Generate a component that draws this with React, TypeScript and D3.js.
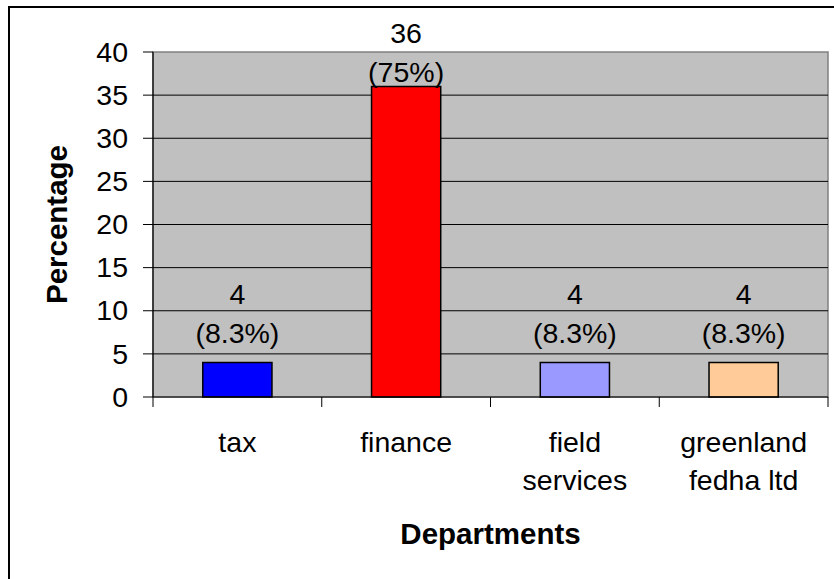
import React, { useEffect, useRef } from "react";
import * as d3 from "d3";

const categories: string[][] = [
  ["tax"],
  ["finance"],
  ["field", "services"],
  ["greenland", "fedha ltd"],
];
const counts = [4, 36, 4, 4];
const barColors = ["#0000FF", "#FF0000", "#9999FF", "#FFCC99"];
const yTicks = [0, 5, 10, 15, 20, 25, 30, 35, 40];

const W = 834;
const H = 579;
const FONT = "'Liberation Sans', Arial, sans-serif";

export default function App() {
  const ref = useRef<SVGSVGElement>(null);

  useEffect(() => {
    const svg = d3.select(ref.current);
    svg.selectAll("*").remove();

    const plot = { left: 153, right: 828, top: 52, bottom: 397 };
    const total = d3.sum(counts);
    const keys = categories.map((c) => c.join(" "));

    const x = d3
      .scaleBand<string>()
      .domain(keys)
      .range([plot.left, plot.right])
      .paddingInner(0.59)
      .paddingOuter(0.295);
    const y = d3.scaleLinear().domain([0, 40]).range([plot.bottom, plot.top]);

    // chart frame (runs off the picture on the right and bottom)
    svg
      .append("rect")
      .attr("x", 9)
      .attr("y", 7)
      .attr("width", 900)
      .attr("height", 700)
      .attr("fill", "#fff")
      .attr("stroke", "#000")
      .attr("stroke-width", 2);

    svg
      .append("rect")
      .attr("x", plot.left)
      .attr("y", plot.top)
      .attr("width", plot.right - plot.left)
      .attr("height", plot.bottom - plot.top)
      .attr("fill", "#C0C0C0")
      .attr("stroke", "#808080")
      .attr("stroke-width", 1.5);

    svg
      .append("g")
      .selectAll("line")
      .data(yTicks.filter((t) => t > 0 && t < 40))
      .join("line")
      .attr("x1", plot.left)
      .attr("x2", plot.right)
      .attr("y1", (d) => y(d))
      .attr("y2", (d) => y(d))
      .attr("stroke", "#000")
      .attr("stroke-width", 1);

    // bars
    svg
      .append("g")
      .selectAll("rect")
      .data(counts)
      .join("rect")
      .attr("x", (_, i) => x(keys[i])!)
      .attr("y", (d) => y(d))
      .attr("width", x.bandwidth())
      .attr("height", (d) => y(0) - y(d))
      .attr("fill", (_, i) => barColors[i])
      .attr("stroke", "#000")
      .attr("stroke-width", 1.5);

    // axes
    svg
      .append("line")
      .attr("x1", plot.left)
      .attr("x2", plot.left)
      .attr("y1", plot.top)
      .attr("y2", plot.bottom)
      .attr("stroke", "#000")
      .attr("stroke-width", 1.2);
    svg
      .append("line")
      .attr("x1", plot.left)
      .attr("x2", plot.right)
      .attr("y1", plot.bottom)
      .attr("y2", plot.bottom)
      .attr("stroke", "#000")
      .attr("stroke-width", 1.2);

    const yAxis = svg.append("g");
    yAxis
      .selectAll("line")
      .data(yTicks)
      .join("line")
      .attr("x1", plot.left - 10)
      .attr("x2", plot.left)
      .attr("y1", (d) => y(d))
      .attr("y2", (d) => y(d))
      .attr("stroke", "#000");
    yAxis
      .selectAll("text")
      .data(yTicks)
      .join("text")
      .attr("x", 128)
      .attr("y", (d) => y(d))
      .attr("dy", "0.34em")
      .attr("text-anchor", "end")
      .attr("font-family", FONT)
      .attr("font-size", 28.5)
      .text((d) => d);

    const step = x.step();
    const bounds = d3.range(keys.length + 1).map((i) => plot.left + i * step);
    svg
      .append("g")
      .selectAll("line")
      .data(bounds)
      .join("line")
      .attr("x1", (d) => d)
      .attr("x2", (d) => d)
      .attr("y1", plot.bottom)
      .attr("y2", plot.bottom + 10)
      .attr("stroke", "#000");

    const catLabels = svg
      .append("g")
      .selectAll("text")
      .data(categories)
      .join("text")
      .attr("text-anchor", "middle")
      .attr("font-family", FONT)
      .attr("font-size", 28.5);
    catLabels
      .selectAll("tspan")
      .data((d, i) => d.map((line) => ({ line, i })))
      .join("tspan")
      .attr("x", (d) => x(keys[d.i])! + x.bandwidth() / 2)
      .attr("y", (_, j) => 452 + j * 38)
      .text((d) => d.line);

    // value labels
    const fmtPct = (v: number) => {
      const p = (v / total) * 100;
      const s = p.toFixed(1);
      return (s.endsWith(".0") ? s.slice(0, -2) : s) + "%";
    };
    const vl = svg.append("g");
    counts.forEach((v, i) => {
      const cx = x(keys[i])! + x.bandwidth() / 2;
      const base2 = Math.max(y(v) - 19.5, 82);
      const base1 = base2 - 39;
      [String(v), `(${fmtPct(v)})`].forEach((t, j) => {
        vl.append("text")
          .attr("x", cx)
          .attr("y", j === 0 ? base1 : base2)
          .attr("text-anchor", "middle")
          .attr("font-family", FONT)
          .attr("font-size", 28.5)
          .text(t);
      });
    });

    svg
      .append("text")
      .attr("transform", `translate(67,${(plot.top + plot.bottom) / 2}) rotate(-90)`)
      .attr("text-anchor", "middle")
      .attr("font-family", FONT)
      .attr("font-weight", "bold")
      .attr("font-size", 29.5)
      .text("Percentage");

    svg
      .append("text")
      .attr("x", (plot.left + plot.right) / 2)
      .attr("y", 544)
      .attr("text-anchor", "middle")
      .attr("font-family", FONT)
      .attr("font-weight", "bold")
      .attr("font-size", 29.5)
      .text("Departments");
  }, []);

  return (
    <svg
      ref={ref}
      width={W}
      height={H}
      style={{ position: "absolute", left: 0, top: 0, overflow: "hidden", background: "#fff" }}
    />
  );
}
